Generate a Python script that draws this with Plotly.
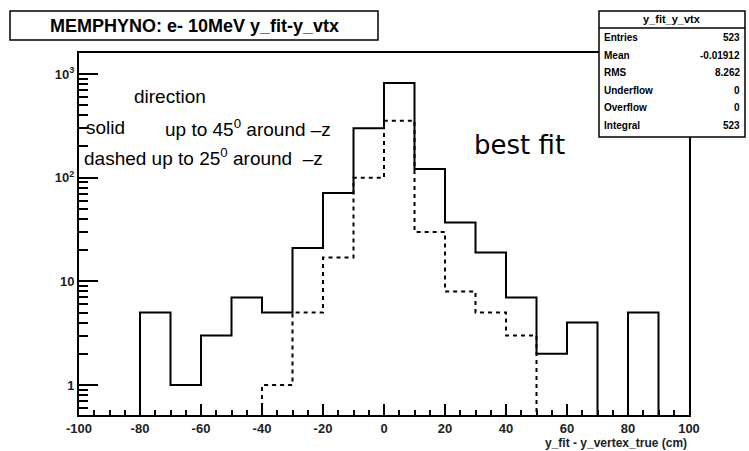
import plotly.graph_objects as go

# ---------------- data ----------------
bin_edges = list(range(-100, 101, 10))
solid_counts = [0, 0, 5, 1, 3, 7, 5, 21, 71, 300, 820, 121, 37, 19, 7, 2, 4, 0, 5, 0]
dashed_counts = [0, 0, 0, 0, 0, 0, 1, 5, 17, 100, 354, 30, 8, 5, 3, 0, 0, 0, 0, 0]
x_ticks = [-100, -80, -60, -40, -20, 0, 20, 40, 60, 80, 100]
x_ticklabels = ["-100", "-80", "-60", "-40", "-20", "0", "20", "40", "60", "80", "100"]
y_ticks = [1, 10, 100, 1000]
y_ticklabels = ["1", "10", "10<sup>2</sup>", "10<sup>3</sup>"]
stats_labels = ["Entries", "Mean", "RMS", "Underflow", "Overflow", "Integral"]
stats_values = ["523", "-0.01912", "8.262", "0", "0", "523"]

# ---------------- layout geometry (pixels) ----------------
W, H = 749, 451
L, R, T, B = 79, 689, 53, 415
FLOOR = 0.05  # empty bins drawn below the visible range


def px(xp):
    return (xp - L) / (R - L)


def py(yp):
    return (B - yp) / (B - T)


def steps(counts):
    ys = [c if c > 0 else FLOOR for c in counts]
    return bin_edges, ys + [ys[-1]]


fig = go.Figure()
xs, ys = steps(solid_counts)
fig.add_trace(go.Scatter(x=xs, y=ys, mode="lines", line_shape="hv",
                         line=dict(color="black", width=2), showlegend=False))
xs, ys = steps(dashed_counts)
fig.add_trace(go.Scatter(x=xs, y=ys, mode="lines", line_shape="hv",
                         line=dict(color="black", width=2, dash="4px,4px"), showlegend=False))

lab_font = dict(family="Liberation Sans", size=13, color="#222", weight="bold")
minor_y = [v * m for v in [0.1, 1, 10, 100, 1000] for m in range(2, 10)]

fig.update_layout(
    width=W, height=H, autosize=False,
    margin=dict(l=L, r=W - R, t=T, b=H - B, pad=0),
    paper_bgcolor="white", plot_bgcolor="white",
    xaxis=dict(range=[-100, 100], tickmode="array", tickvals=x_ticks, ticktext=x_ticklabels,
               ticks="inside", ticklen=11, tickwidth=2, tickcolor="black",
               showline=True, linecolor="black", linewidth=2, mirror=True,
               showgrid=False, zeroline=False, tickfont=lab_font,
               minor=dict(dtick=5, tick0=0, ticks="inside", ticklen=5, tickwidth=2,
                          tickcolor="black", showgrid=False)),
    yaxis=dict(type="log", range=[-0.289, 3.2025], tickmode="array", tickvals=y_ticks,
               ticktext=y_ticklabels, ticks="inside", ticklen=19, tickwidth=2, tickcolor="black",
               showline=True, linecolor="black", linewidth=2, mirror=True,
               showgrid=False, zeroline=False, tickfont=lab_font,
               minor=dict(tickmode="array", tickvals=minor_y, ticks="inside", ticklen=9,
                          tickwidth=2, tickcolor="black", showgrid=False)),
)

shapes = []
annotations = []

# title box
shapes.append(dict(type="rect", xref="paper", yref="paper", x0=px(10), x1=px(378),
                   y0=py(40), y1=py(11), line=dict(color="black", width=1.5),
                   fillcolor="white", layer="above"))
annotations.append(dict(xref="paper", yref="paper", x=px(194), y=py(25.5), xanchor="center",
                        yanchor="middle", showarrow=False,
                        text="MEMPHYNO: e- 10MeV y_fit-y_vtx",
                        font=dict(family="Liberation Sans", size=18, color="black", weight="bold")))

# stats box
sx0, sx1, sy0, sy1, sh = 599, 745, 11, 137, 28
shapes.append(dict(type="rect", xref="paper", yref="paper", x0=px(sx0), x1=px(sx1),
                   y0=py(sy1), y1=py(sy0), line=dict(color="black", width=1.5),
                   fillcolor="white", layer="above"))
shapes.append(dict(type="line", xref="paper", yref="paper", x0=px(sx0), x1=px(sx1),
                   y0=py(sh), y1=py(sh), line=dict(color="black", width=1.5), layer="above"))
stat_font = dict(family="Liberation Sans", size=10, color="black", weight="bold")
annotations.append(dict(xref="paper", yref="paper", x=px((sx0 + sx1) / 2), y=py(19.5),
                        xanchor="center", yanchor="middle", showarrow=False,
                        text="y_fit_y_vtx", font=dict(family="Liberation Sans", size=11,
                                                      color="black", weight="bold")))
for i, (lab, val) in enumerate(zip(stats_labels, stats_values)):
    yc = 37.5 + 17.6 * i
    annotations.append(dict(xref="paper", yref="paper", x=px(602), y=py(yc), xanchor="left",
                            yanchor="middle", showarrow=False, text=lab, font=stat_font))
    annotations.append(dict(xref="paper", yref="paper", x=px(742), y=py(yc), xanchor="right",
                            yanchor="middle", showarrow=False, text=val, font=stat_font))

# in-plot text
txt_font = dict(family="Liberation Sans", size=19, color="black")
annotations.append(dict(xref="paper", yref="paper", x=px(132), y=py(96), xanchor="left",
                        yanchor="middle", showarrow=False, text="direction", font=txt_font))
annotations.append(dict(xref="paper", yref="paper", x=px(84), y=py(128), xanchor="left",
                        yanchor="middle", showarrow=False, text="solid", font=txt_font))
annotations.append(dict(xref="paper", yref="paper", x=px(163), y=py(128), xanchor="left",
                        yanchor="middle", showarrow=False,
                        text="up to 45<sup>0</sup> around \u2013z", font=txt_font))
annotations.append(dict(xref="paper", yref="paper", x=px(82), y=py(157), xanchor="left",
                        yanchor="middle", showarrow=False,
                        text="dashed up to 25<sup>0</sup> around  \u2013z", font=txt_font))
annotations.append(dict(xref="paper", yref="paper", x=px(472), y=py(145), xanchor="left",
                        yanchor="middle", showarrow=False, text="best fit",
                        font=dict(family="DejaVu Sans", size=26, color="black")))

# x axis title
annotations.append(dict(xref="paper", yref="paper", x=1, y=py(443), xanchor="right",
                        yanchor="middle", showarrow=False, text="y_fit - y_vertex_true (cm)",
                        font=dict(family="Liberation Sans", size=12, color="#222", weight="bold")))

fig.update_layout(shapes=shapes, annotations=annotations)
fig.write_html("out.html")
